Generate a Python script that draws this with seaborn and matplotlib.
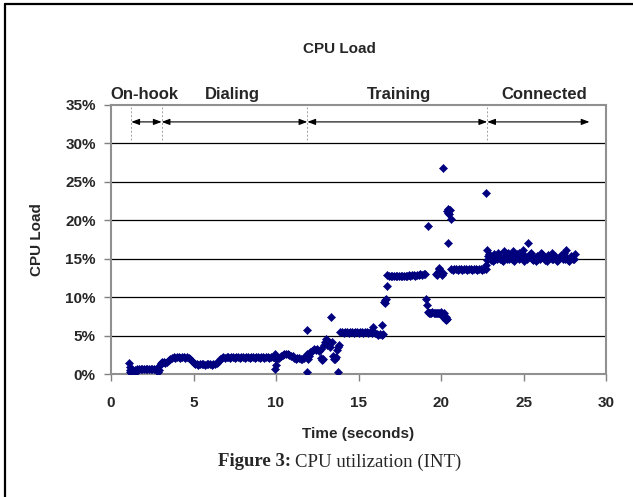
import matplotlib
matplotlib.use("Agg")
import matplotlib.pyplot as plt
from matplotlib.lines import Line2D
import seaborn as sns
import pandas as pd

# ---------------- data (time in s, CPU load in %) ----------------
ONHOOK_T = [1.12, 1.14, 1.16, 1.18, 1.20, 1.25, 1.30, 1.35, 1.40, 1.45, 1.50, 1.55, 1.60,
            1.70, 1.80, 1.90, 2.00, 2.10, 2.20, 2.30, 2.40, 2.50, 2.60, 2.70, 2.80, 2.86, 2.90]
ONHOOK_V = [1.4, 0.9, 0.2, 0.5, 0.3, 0.2, 0.5, 0.3, 0.2, 0.5, 0.3, 0.5, 0.6,
            0.6, 0.6, 0.65, 0.65, 0.65, 0.7, 0.7, 0.7, 0.7, 0.7, 0.7, 0.7, 0.2, 0.5]

DIAL_T = [2.95, 3.0, 3.05, 3.1, 3.2, 3.3, 3.4, 3.5,
          3.6, 3.7, 3.8, 3.9, 4.0, 4.1, 4.2, 4.3, 4.4, 4.5, 4.6, 4.7, 4.8,
          4.9, 5.0, 5.1, 5.2, 5.3, 5.4, 5.5, 5.6, 5.7, 5.8, 5.9, 6.0, 6.1, 6.2, 6.3, 6.4, 6.5,
          6.6, 6.7, 6.8, 6.9, 7.0, 7.1, 7.2, 7.3, 7.4, 7.5, 7.6, 7.7, 7.8, 7.9, 8.0, 8.1, 8.2,
          8.3, 8.4, 8.5, 8.6, 8.7, 8.8, 8.9, 9.0, 9.1, 9.2, 9.3, 9.4, 9.5, 9.6, 9.7, 9.8, 9.9,
          9.95, 9.95, 9.97, 10.0, 10.1, 10.2, 10.3, 10.4, 10.5, 10.6, 10.7, 10.8, 10.9, 11.0,
          11.1, 11.2, 11.3, 11.4, 11.5, 11.6, 11.7, 11.8]
DIAL_V = [1.2, 1.4, 1.3, 1.5, 1.5, 1.4, 1.6, 1.8,
          2.0, 2.1, 2.2, 2.1, 2.2, 2.2, 2.1, 2.2, 2.2, 2.1, 2.2, 2.1, 2.0,
          1.7, 1.4, 1.3, 1.3, 1.2, 1.3, 1.3, 1.3, 1.2, 1.3, 1.3, 1.3, 1.2, 1.3, 1.3, 1.4, 1.6,
          1.9, 2.1, 2.2, 2.1, 2.2, 2.2, 2.1, 2.2, 2.2, 2.1, 2.2, 2.2, 2.1, 2.2, 2.2, 2.1, 2.2,
          2.2, 2.1, 2.2, 2.2, 2.1, 2.2, 2.2, 2.1, 2.2, 2.2, 2.1, 2.2, 2.2, 2.1, 2.2, 2.2, 2.2,
          2.6, 0.7, 1.2, 2.0, 2.1, 2.1, 2.4, 2.5, 2.6, 2.6, 2.6, 2.5, 2.4, 2.3,
          2.1, 2.0, 2.1, 2.1, 2.0, 2.0, 2.1, 2.3]

TRAIN_T = [11.85, 11.85, 11.9, 11.95, 12.0, 12.05, 12.1, 12.2, 12.3, 12.4, 12.5, 12.6, 12.7,
           12.75, 12.8, 12.85, 12.9, 12.95, 13.0, 13.05, 13.1, 13.15, 13.2, 13.25, 13.35, 13.4,
           13.45, 13.5, 13.55, 13.6, 13.65, 13.7, 13.75, 13.75, 13.8,
           13.9, 14.0, 14.1, 14.2, 14.3, 14.4, 14.5, 14.6, 14.7, 14.8, 14.9, 15.0, 15.1, 15.2,
           15.3, 15.4, 15.5, 15.6, 15.7, 15.8, 15.9, 16.0, 16.1, 16.2, 16.3, 16.4, 16.5,
           15.9, 16.45, 16.55, 16.6, 16.62, 16.65, 16.7,
           16.75, 16.85, 16.95, 17.05, 17.15, 17.25, 17.35, 17.45, 17.55, 17.65, 17.75, 17.85,
           17.95, 18.05, 18.15, 18.25, 18.35, 18.45, 18.55, 18.65, 18.75, 18.85, 18.95, 19.05,
           19.1, 19.15, 19.2,
           19.2, 19.27, 19.34, 19.41, 19.48, 19.55, 19.62, 19.69, 19.76, 19.83, 19.9, 19.97,
           20.1, 20.2, 20.25, 20.3, 20.3, 20.35,
           19.7, 19.75, 19.8, 19.85, 19.9, 19.95, 20.0, 20.05, 20.1,
           20.15, 20.35, 20.4, 20.45, 20.5, 20.5, 20.55, 20.6, 20.45,
           20.6, 20.7, 20.8, 20.9, 21.0, 21.1, 21.2, 21.3, 21.4, 21.5, 21.6, 21.7, 21.8, 21.9,
           22.0, 22.1, 22.2, 22.3, 22.4, 22.5, 22.6, 22.7,
           22.7, 22.75, 22.8, 22.8, 22.85, 22.9]
TRAIN_V = [5.7, 0.2, 2.6, 1.9, 2.3, 2.9, 2.8, 3.0, 3.3, 3.1, 3.2, 3.0, 3.2,
           2.1, 1.8, 2.0, 3.8, 4.2, 4.0, 4.5, 3.8, 4.3, 4.1, 3.5, 7.45, 4.2,
           2.3, 2.0, 2.1, 2.0, 2.2, 3.1, 3.45, 0.2, 3.8,
           5.5, 5.4, 5.3, 5.4, 5.4, 5.3, 5.4, 5.4, 5.3, 5.4, 5.4, 5.3, 5.4, 5.4,
           5.3, 5.4, 5.4, 5.3, 5.4, 5.3, 5.4, 5.3, 5.2, 5.1, 5.2, 5.1, 5.2,
           6.1, 6.4, 9.4, 9.6, 9.2, 9.7, 11.5,
           12.9, 12.7, 12.8, 12.7, 12.8, 12.8, 12.7, 12.8, 12.8, 12.7, 12.8, 12.8,
           12.8, 12.9, 12.8, 12.9, 12.9, 12.8, 12.9, 12.9, 13.0, 12.9, 13.0, 13.0,
           9.7, 9.0, 19.2,
           8.1, 8.0, 7.9, 8.0, 8.1, 8.0, 7.9, 8.0, 8.0, 7.9, 8.0, 8.1,
           7.4, 7.9, 7.2, 7.0, 7.4, 7.1,
           13.0, 12.9, 13.3, 13.6, 13.8, 13.4, 13.1, 12.9, 13.2,
           26.8, 21.2, 21.5, 21.0, 21.4, 20.8, 21.3, 20.2, 17.0,
           13.6, 13.5, 13.6, 13.6, 13.5, 13.6, 13.6, 13.5, 13.6, 13.6, 13.5, 13.6, 13.6, 13.5,
           13.6, 13.6, 13.5, 13.6, 13.6, 13.5, 13.6, 13.7,
           23.5, 14.2, 14.8, 16.1, 15.3, 15.6]

CONN_T = [22.95, 23.0, 23.05, 23.1, 23.2, 23.3, 23.4, 23.5, 23.6, 23.7, 23.8, 23.8, 23.9,
          24.0, 24.1, 24.2, 24.3, 24.35, 24.4, 24.5, 24.6, 24.7, 24.8, 24.9, 24.95, 25.0,
          25.1, 25.2, 25.3, 25.3, 25.4, 25.5, 25.6, 25.7, 25.8, 25.9, 26.0, 26.1, 26.2, 26.3,
          26.4, 26.5, 26.6, 26.7, 26.8, 26.9, 27.0, 27.1, 27.2, 27.3, 27.4, 27.5, 27.6, 27.6,
          27.7, 27.8, 27.9, 28.0, 28.1,
          23.15, 23.45, 23.75, 24.05, 24.45, 24.75, 25.05, 25.45, 25.75, 26.05, 26.45, 26.75,
          27.05, 27.45, 27.75, 28.05]
CONN_V = [15.4, 15.0, 14.8, 15.2, 15.6, 15.0, 14.9, 15.3, 15.0, 14.8, 16.0, 15.1, 15.5,
          14.9, 15.0, 15.4, 15.0, 16.0, 14.8, 15.2, 15.6, 14.9, 15.1, 15.5, 16.1, 15.0,
          15.3, 14.9, 17.0, 15.2, 15.6, 15.0, 14.8, 15.1, 15.4, 14.9, 15.0, 15.6, 15.2, 14.8,
          15.0, 15.5, 15.1, 14.9, 15.0, 15.3, 15.0, 14.8, 15.2, 15.5, 14.9, 15.0, 16.1, 15.2,
          14.8, 15.0, 15.3, 14.9, 15.6,
          14.7, 15.8, 14.7, 15.7, 14.7, 15.8, 14.7, 15.8, 14.7, 15.7, 14.7, 15.8,
          14.7, 15.7, 14.7, 15.0]

PHASES = ["On-hook", "Dialing", "Training", "Connected"]
PHASE_BOUNDS = [1.23, 3.07, 11.9, 22.8, 29.0]
PHASE_LABEL_X = [2.0, 7.35, 17.45, 26.25]

X_TICKS = [0, 5, 10, 15, 20, 25, 30]
Y_TICKS = [0, 5, 10, 15, 20, 25, 30, 35]

df = pd.DataFrame({
    "time": ONHOOK_T + DIAL_T + TRAIN_T + CONN_T,
    "load": ONHOOK_V + DIAL_V + TRAIN_V + CONN_V,
})

# ---------------- figure ----------------
sns.set_theme(style="white")
plt.rcParams["font.family"] = ["Liberation Sans", "DejaVu Sans"]

fig = plt.figure(figsize=(6.33, 4.97), dpi=100)
fig.patch.set_facecolor("white")
ax = fig.add_axes([111 / 633, 1 - 374 / 497, (606 - 111) / 633, (374 - 105) / 497])

for y in Y_TICKS[1:-1]:
    ax.axhline(y, color="black", lw=0.9, zorder=1)

sns.scatterplot(data=df, x="time", y="load", ax=ax, marker="D", s=17,
                color="#00007f", edgecolor="#00007f", linewidth=0.4, zorder=3, legend=False)

ax.set_xlim(0, 30)
ax.set_ylim(0, 35)
ax.set_xticks(X_TICKS)
ax.set_yticks(Y_TICKS)
ax.set_xticklabels([str(v) for v in X_TICKS], fontweight="bold", fontsize=11)
ax.set_yticklabels([f"{v}%" for v in Y_TICKS], fontweight="bold", fontsize=11)
ax.tick_params(axis="both", direction="out", length=5, width=1, color="#808080",
               pad=11, bottom=True, left=True)
ax.tick_params(axis="y", pad=6)
for sp in ax.spines.values():
    sp.set_color("#909090")
    sp.set_linewidth(1.5)
ax.set_xlabel("Time (seconds)", fontweight="bold", fontsize=11, labelpad=12)
ax.set_ylabel("CPU Load", fontweight="bold", fontsize=11, labelpad=15)

# phase boundaries, arrows, labels
for b in PHASE_BOUNDS[:-1]:
    ax.plot([b, b], [30.5, 35], color="#a0a0a0", lw=0.7, ls=(0, (2, 2)), zorder=2)
for a, b in zip(PHASE_BOUNDS[:-1], PHASE_BOUNDS[1:]):
    ax.annotate("", xy=(b, 32.8), xytext=(a, 32.8),
                arrowprops=dict(arrowstyle="<|-|>,head_length=0.4,head_width=0.15",
                                color="black", lw=0.8, shrinkA=0, shrinkB=0))
for name, x in zip(PHASES, PHASE_LABEL_X):
    ax.text(x, 36.4, name, ha="center", va="center", fontsize=12,
            fontweight="bold", clip_on=False)

fig.text(339 / 633, 1 - 49 / 497, "CPU Load", ha="center", va="center",
         fontsize=11, fontweight="bold")

# caption
cap_y = 1 - 462 / 497
t1 = fig.text(218 / 633, cap_y, "Figure 3:", ha="left", va="center", fontsize=13.5,
              fontweight="bold", family="Liberation Serif")
fig.canvas.draw()
bb = t1.get_window_extent()
fig.text((bb.x1 + 4) / 633, cap_y, "CPU utilization (INT)", ha="left", va="center",
         fontsize=13.5, family="Liberation Serif")

# outer frame (left and top edges)
fig.add_artist(Line2D([5 / 633, 5 / 633], [0, 1 - 4 / 497], color="black", lw=1.6,
                      transform=fig.transFigure))
fig.add_artist(Line2D([5 / 633, 1], [1 - 4 / 497, 1 - 4 / 497], color="black", lw=1.6,
                      transform=fig.transFigure))

fig.savefig("out.png", dpi=100)
